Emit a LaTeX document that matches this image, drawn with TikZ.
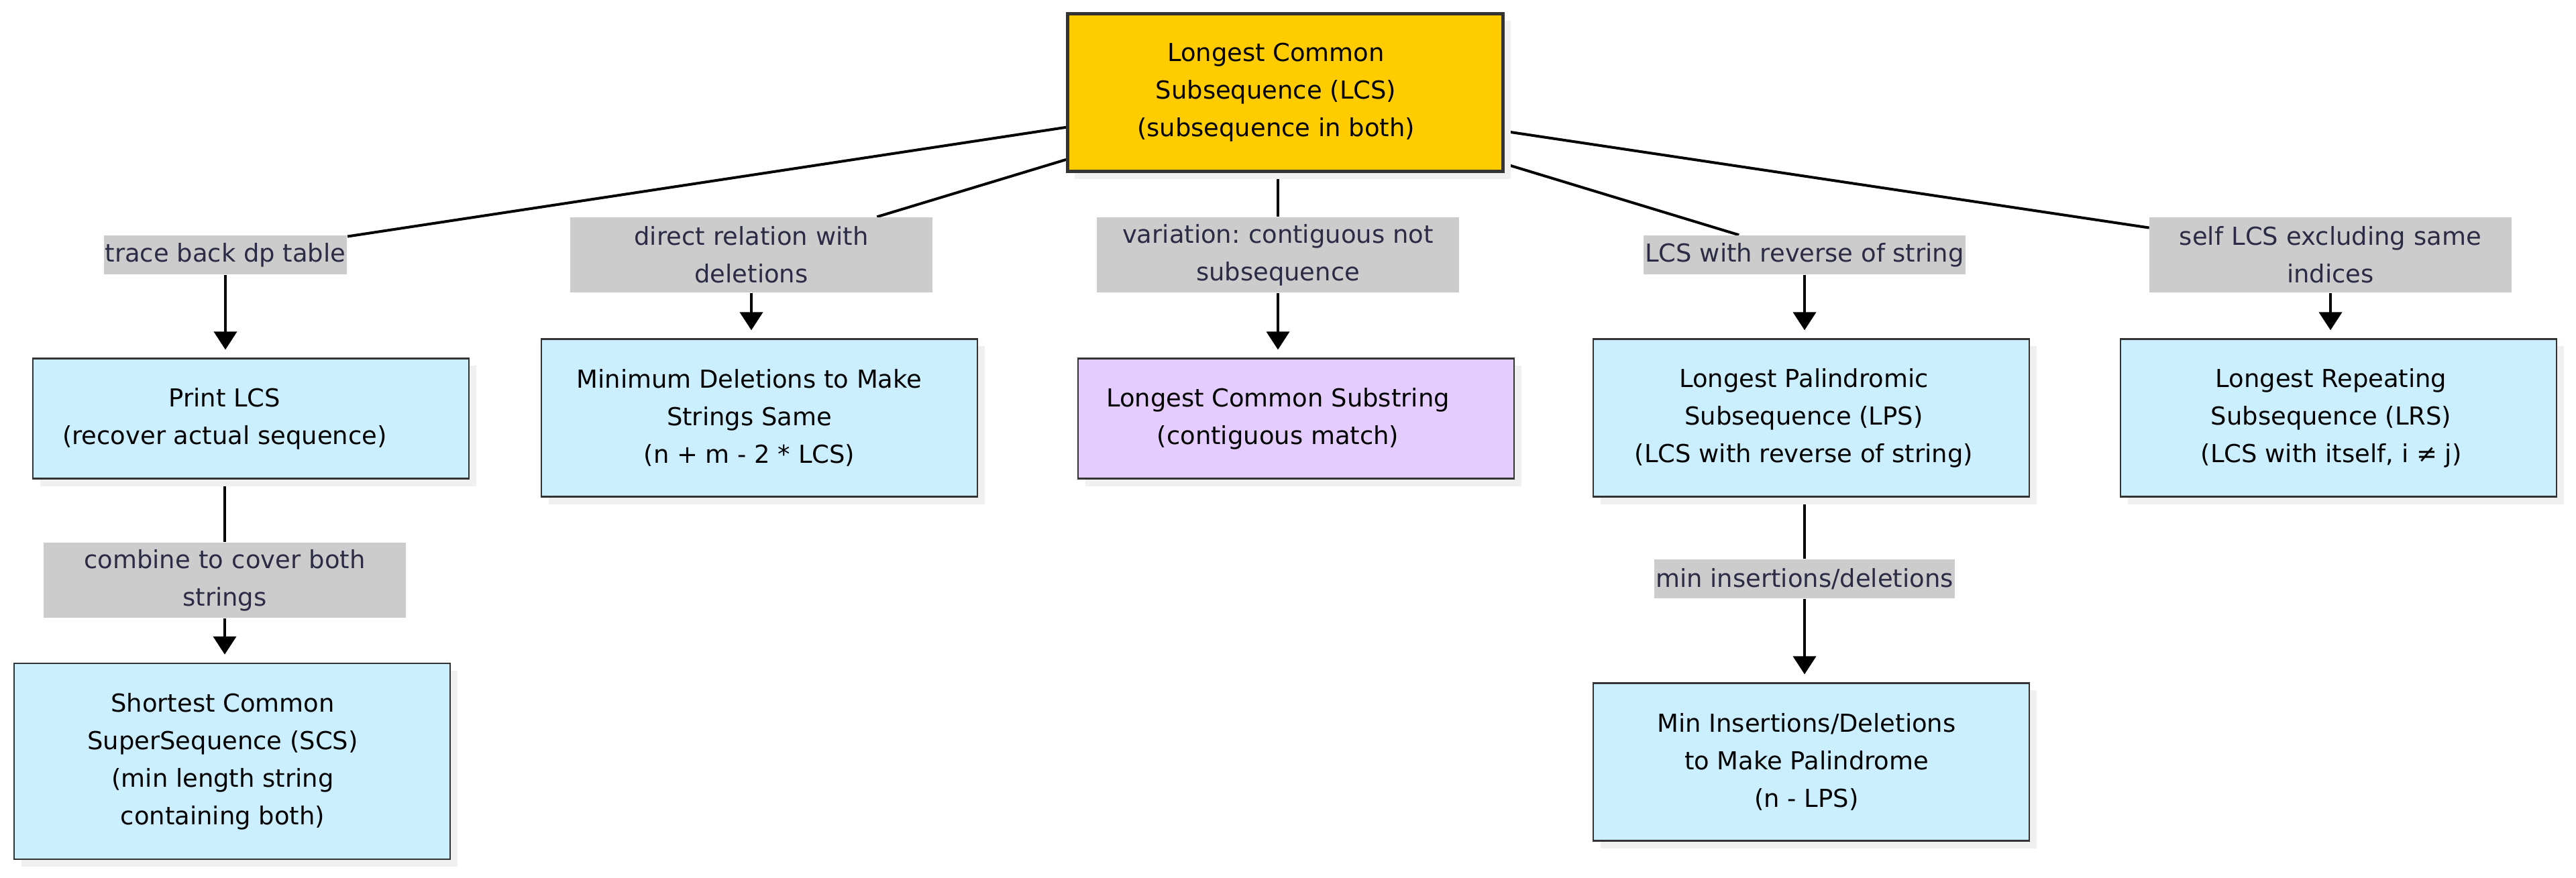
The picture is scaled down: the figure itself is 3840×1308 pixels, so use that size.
\documentclass[tikz,border=0pt]{standalone}
\usepackage{fontspec}
\setmainfont{DejaVu Sans}
\frenchspacing
\usetikzlibrary{arrows.meta,shadows}
\definecolor{lcsgold}{HTML}{FFCC00}
\definecolor{probblue}{HTML}{CCEFFF}
\definecolor{probpurple}{HTML}{E5CCFF}
\definecolor{tagfill}{HTML}{CCCCCC}
\definecolor{tagtext}{HTML}{2B2B45}
\definecolor{boxline}{HTML}{333333}
\pgfdeclarelayer{behind}
\pgfsetlayers{behind,main}

\begin{document}
\begin{tikzpicture}[x=0.01cm,y=-0.01cm,>={Triangle[length=0.27cm,width=0.34cm]},
  every node/.style={font=\fontsize{10.5}{15.9}\selectfont},
  prob/.style={draw=boxline,line width=0.022cm,fill=probblue,minimum width=6.49cm,
    drop shadow={shadow xshift=0.11cm,shadow yshift=-0.11cm,fill=black!6,opacity=1}},
  lines/.style={align=center},
  tag/.style={fill=tagfill,text=tagtext,inner xsep=0.02cm,inner ysep=0,minimum height=0.58cm},
  tagtwo/.style={tag,text width=5.39cm,align=center,inner xsep=0,minimum height=1.12cm},
  link/.style={line width=0.04cm}]
  \useasboundingbox (0,0) rectangle (3840,1308);

  \node[prob,fill=lcsgold,line width=0.045cm,minimum height=2.35cm,
    label={[lines,xshift=-0.14cm]center:{Longest Common\\Subsequence (LCS)\\(subsequence in both)}}] (lcs) at (1916,138) {};

  \node[tag] (trace) at (336,380) {trace back dp table};
  \node[prob,minimum height=1.79cm,
    label={[lines,xshift=-0.39cm]center:{Print LCS\\(recover actual sequence)}}] (print) at (374,624) {};
  \node[tagtwo] (comb) at (335,865) {combine to cover both\\strings};
  \node[prob,minimum height=2.92cm,
    label={[lines,xshift=-0.14cm]center:{Shortest Common\\SuperSequence (SCS)\\(min length string\\containing both)}}] (scs) at (346,1135) {};

  \node[tagtwo] (rel) at (1120,380) {direct relation with\\deletions};
  \node[prob,minimum height=2.35cm,
    label={[lines,xshift=-0.15cm]center:{Minimum Deletions to Make\\Strings Same\\(n + m - 2 * LCS)}}] (del) at (1132,623) {};

  \node[tagtwo] (var) at (1905,380) {variation: contiguous not\\subsequence};
  \node[prob,fill=probpurple,minimum height=1.79cm,
    label={[lines,xshift=-0.27cm]center:{Longest Common Substring\\(contiguous match)}}] (sub) at (1932,624) {};

  \node[tag] (rev) at (2690,380) {LCS with reverse of string};
  \node[prob,minimum height=2.35cm,
    label={[lines,xshift=-0.11cm]center:{Longest Palindromic\\Subsequence (LPS)\\(LCS with reverse of string)}}] (lps) at (2700,623) {};
  \node[tag] (ins) at (2690,863) {min insertions/deletions};
  \node[prob,minimum height=2.35cm,
    label={[lines,xshift=-0.07cm]center:{Min Insertions/Deletions\\to Make Palindrome\\(n - LPS)}}] (mins) at (2700,1136) {};

  \node[tagtwo] (self) at (3474,380) {self LCS excluding same\\indices};
  \node[prob,minimum height=2.35cm,
    label={[lines,xshift=-0.11cm]center:{Longest Repeating\\Subsequence (LRS)\\(LCS with itself, i ≠ j)}}] (lrs) at (3486,623) {};

  \begin{pgfonlayer}{behind}
    \draw[link] (lcs.189) -- (trace);
    \draw[link] (lcs.197.5) -- (rel);
    \draw[link] (var |- lcs.south) -- (var);
    \draw[link] (lcs.342) -- (rev);
    \draw[link] (lcs.350.5) -- (self);
    \draw[link,->,shorten >=0.12cm] (trace.south) -- (trace.south |- print.north);
    \draw[link,->,shorten >=0.12cm] (rel.south) -- (rel.south |- del.north);
    \draw[link,->,shorten >=0.12cm] (var.south) -- (var.south |- sub.north);
    \draw[link,->,shorten >=0.12cm] (rev.south) -- (rev.south |- lps.north);
    \draw[link,->,shorten >=0.12cm] (self.south) -- (self.south |- lrs.north);
    \draw[link] (comb |- print.south) -- (comb);
    \draw[link,->,shorten >=0.12cm] (comb.south) -- (comb.south |- scs.north);
    \draw[link] (ins |- lps.south) -- (ins);
    \draw[link,->,shorten >=0.12cm] (ins.south) -- (ins.south |- mins.north);
  \end{pgfonlayer}
\end{tikzpicture}
\end{document}
